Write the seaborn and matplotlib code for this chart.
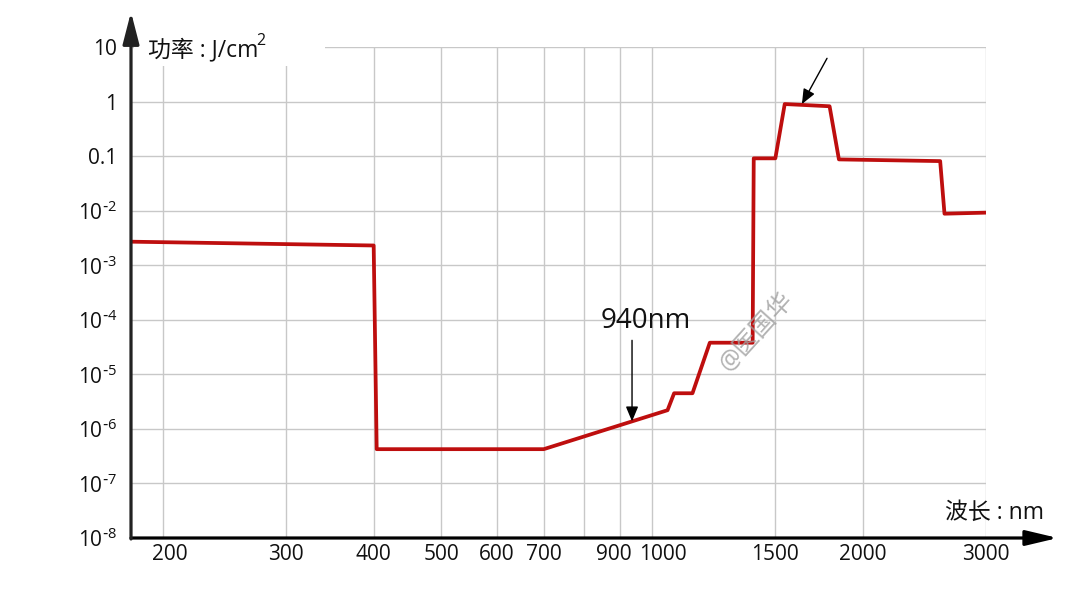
import pandas as pd
import seaborn as sns
import matplotlib.pyplot as plt
from matplotlib.patches import Rectangle
from matplotlib.ticker import NullLocator
from matplotlib.transforms import ScaledTranslation

# Datos: longitud de onda (nm) y energía (J/cm²)
wavelength = [180, 400, 404, 700, 1052, 1075, 1142, 1209, 1392, 1397,
              1500, 1547, 1793, 1849, 2580, 2617, 3000]
energy = [2.7e-3, 2.3e-3, 4.25e-7, 4.25e-7, 2.2e-6, 4.5e-6, 4.5e-6, 3.8e-5, 3.8e-5, 0.091,
          0.091, 0.9, 0.82, 0.087, 0.081, 0.0088, 0.0092]

x_ticks = [200, 300, 400, 500, 600, 700, 800, 900, 1000, 1500, 2000, 3000]
x_labels = ["200", "300", "400", "500", "600", "700", "", "900", "1000", "1500", "2000", "3000"]
y_ticks = [1e-8, 1e-7, 1e-6, 1e-5, 1e-4, 1e-3, 1e-2, 0.1, 1, 10]
y_labels = [r"$\mathregular{10^{\text{-}%d}}$" % k for k in range(8, 1, -1)] + ["0.1", "1", "10"]

df = pd.DataFrame({"wavelength": wavelength, "energy": energy})

sns.set_theme(style="white")
plt.rcParams["font.family"] = ["Open Sans", "Noto Sans CJK SC", "DejaVu Sans"]

fig = plt.figure(figsize=(10.8, 6.08), dpi=100)
ax = fig.add_axes([131 / 1080, 70 / 608, 855 / 1080, 491 / 608])
ax.set_xscale("log")
ax.set_yscale("log")

sns.lineplot(data=df, x="wavelength", y="energy", ax=ax, color="#BE0E0E",
             lw=2.7, sort=False, estimator=None, zorder=4)

ax.set_xlim(180, 3000)
ax.set_ylim(1e-8, 10)
ax.set_xticks(x_ticks, x_labels)
ax.set_yticks(y_ticks, y_labels)
ax.xaxis.set_minor_locator(NullLocator())
ax.yaxis.set_minor_locator(NullLocator())
ax.grid(True, color="#c8c8c8", lw=1)
ax.tick_params(length=0, labelsize=15, colors="#111111")
ax.tick_params(axis="x", pad=4)
ax.tick_params(axis="y", pad=10)
ax.set_xlabel("")
ax.set_ylabel("")
for s in ax.spines.values():
    s.set_visible(False)

# pequeños desplazamientos de etiquetas
shift = {200: 7, 900: -6, 1000: 11}
for tick, loc in zip(ax.xaxis.get_major_ticks(), x_ticks):
    if loc in shift:
        lab = tick.label1
        lab.set_transform(lab.get_transform() + ScaledTranslation(shift[loc] / 100, 0, fig.dpi_scale_trans))

# ejes con flecha
ax.annotate("", xy=(1.084, 0), xytext=(0, 0), xycoords="axes fraction", annotation_clip=False,
            arrowprops=dict(arrowstyle="-|>,head_length=0.97,head_width=0.23", color="black",
                            lw=2.3, shrinkA=0, shrinkB=0, mutation_scale=20), zorder=5)
ax.annotate("", xy=(0, 1.0713), xytext=(0, -0.002), xycoords="axes fraction", annotation_clip=False,
            arrowprops=dict(arrowstyle="-|>,head_length=0.97,head_width=0.25", color="#222222",
                            lw=2.3, shrinkA=0, shrinkB=0, mutation_scale=20), zorder=5)

# títulos de ejes
ax.add_patch(Rectangle((0.0035, 0.961), 0.2235, 0.08, transform=ax.transAxes,
                       facecolor="white", edgecolor="none", clip_on=False, zorder=2.5))
ylab = ax.text(0.0199, 0.994, "功率 : J/cm", transform=ax.transAxes, fontsize=16.5,
               ha="left", va="center", color="#111111", zorder=3)
ax.annotate("2", xy=(1, 0.55), xycoords=ylab, xytext=(-1.5, 0), textcoords="offset points",
            fontsize=11.5, ha="left", va="bottom", color="#111111", zorder=3)
ax.text(1.0105, 0.051, "波长 : nm", transform=ax.transAxes, fontsize=16.5,
        ha="center", va="center", color="#111111")

# anotaciones
ax.annotate("", xy=(936, 1.37e-6), xytext=(936, 4.2e-5),
            arrowprops=dict(arrowstyle="-|>,head_length=0.6,head_width=0.25", color="black",
                            lw=1, shrinkA=0, shrinkB=0, mutation_scale=15), zorder=5)
ax.text(980, 9.5e-5, "940nm", fontsize=20, ha="center", va="center", color="#111111")
ax.annotate("", xy=(1637, 0.9), xytext=(1778, 6.2),
            arrowprops=dict(arrowstyle="-|>,head_length=0.6,head_width=0.25", color="black",
                            lw=1, shrinkA=0, shrinkB=0, mutation_scale=15), zorder=5)

# marca de agua
fig.text(0.701, 0.454, "@医国华", fontsize=18, rotation=48, color="#a0a0a0",
         ha="center", va="center", alpha=0.8)

fig.savefig("out.png", dpi=100)
